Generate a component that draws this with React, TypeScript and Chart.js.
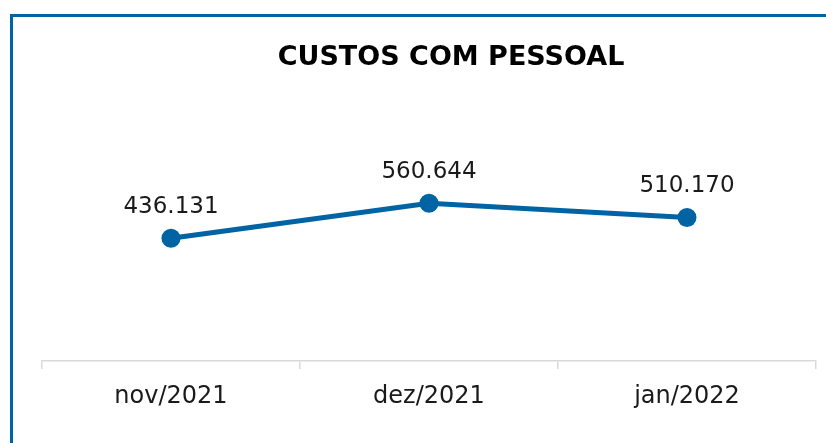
import React, { useEffect, useRef } from 'react';
import { Chart, registerables } from 'chart.js';

Chart.register(...registerables);

const TITLE = 'CUSTOS COM PESSOAL';
const categories = ['nov/2021', 'dez/2021', 'jan/2022'];
const values = [436131, 560644, 510170];
const yMin = 0;
const yMax = 700000;

const BLUE = '#0063a3';

function fmt(v: number): string {
  return String(Math.round(v)).replace(/\B(?=(\d{3})+(?!\d))/g, '.');
}

const labelPlugin = {
  id: 'customLabels',
  afterDatasetsDraw(chart: any) {
    const ctx = chart.ctx;
    const meta = chart.getDatasetMeta(0);
    ctx.save();
    ctx.font = '23px "DejaVu Sans"';
    ctx.fillStyle = '#1a1a1a';
    ctx.textAlign = 'center';
    ctx.textBaseline = 'alphabetic';
    meta.data.forEach((pt: any, i: number) => {
      ctx.fillText(fmt(values[i]), pt.x, pt.y - 25);
    });
    ctx.font = 'bold 27px "DejaVu Sans"';
    ctx.fillStyle = '#000000';
    ctx.fillText(TITLE, 451, 65);
    ctx.restore();
  },
};

export default function App() {
  const ref = useRef<HTMLCanvasElement | null>(null);

  useEffect(() => {
    if (!ref.current) return;
    const chart = new Chart(ref.current, {
      type: 'line',
      data: {
        labels: categories,
        datasets: [
          {
            data: values,
            borderColor: BLUE,
            backgroundColor: BLUE,
            borderWidth: 5,
            pointRadius: 9.5,
            pointBorderWidth: 0,
            pointBackgroundColor: BLUE,
            tension: 0,
            clip: false as any,
          },
        ],
      },
      options: {
        responsive: false,
        animation: false,
        devicePixelRatio: 1,
        layout: { padding: { left: 42, right: 10, top: 164, bottom: 0 } },
        plugins: {
          legend: { display: false },
          tooltip: { enabled: false },
          title: { display: false },
        },
        scales: {
          y: { display: false, min: yMin, max: yMax },
          x: {
            offset: true,
            grid: {
              offset: true,
              drawOnChartArea: false,
              drawTicks: true,
              tickLength: 8,
              color: '#d9d9d9',
              lineWidth: 1.5,
            },
            border: { display: true, color: '#d9d9d9', width: 1.5 },
            ticks: {
              font: { family: 'DejaVu Sans', size: 24 },
              color: '#1a1a1a',
              padding: 13,
              maxRotation: 0,
            },
            afterFit: (s: any) => {
              s.height = 82;
            },
          },
        },
      },
      plugins: [labelPlugin],
    });
    return () => chart.destroy();
  }, []);

  return (
    <div style={{ position: 'fixed', left: 0, top: 0, width: 826, height: 443, background: '#ffffff', overflow: 'hidden' }}>
      <div
        style={{
          position: 'absolute',
          left: 10,
          top: 14,
          width: 1000,
          height: 1000,
          borderLeft: `3px solid ${BLUE}`,
          borderTop: `3px solid ${BLUE}`,
        }}
      />
      <canvas ref={ref} width={826} height={443} style={{ position: 'absolute', left: 0, top: 0, width: 826, height: 443 }} />
    </div>
  );
}
